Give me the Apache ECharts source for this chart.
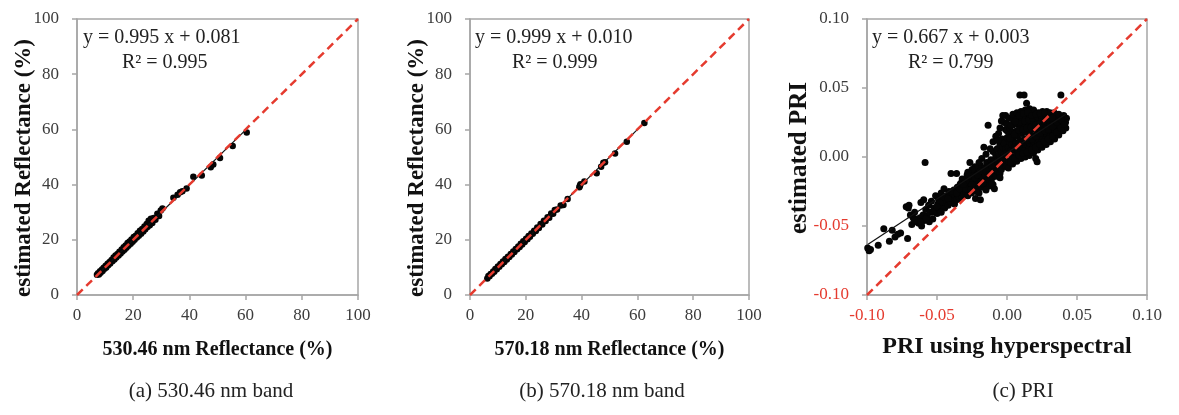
<!DOCTYPE html>
<html>
<head>
<meta charset="utf-8">
<script src="https://cdn.jsdelivr.net/npm/echarts@6/dist/echarts.min.js"></script>
<style>
html,body{margin:0;padding:0;background:#fff;}
#chart{width:1179px;height:415px;}
</style>
</head>
<body>
<div id="chart"></div>
<script>
// ---------- data ----------
const refTicks = [0, 20, 40, 60, 80, 100];
const priTicks = [-0.10, -0.05, 0.00, 0.05, 0.10];

const pointsA = [[7.1,7.3],[7.5,7.9],[7.8,7.4],[8.2,8.6],[8.4,8.1],[8.9,9.2],[9.1,8.7],[9.5,9.9],[9.8,9.5],[10.2,10.6],[10.4,10.0],[10.9,11.3],[11.1,10.8],[11.6,12.0],[11.8,11.4],[12.3,12.7],[12.6,12.2],[13.0,13.6],[13.3,12.9],[13.7,14.3],[14.0,13.6],[14.4,14.9],[14.8,14.3],[15.1,15.7],[15.5,15.0],[15.9,16.5],[16.2,15.8],[16.6,17.3],[16.9,16.4],[17.3,17.9],[17.6,17.1],[18.0,18.8],[18.3,17.8],[18.7,19.4],[19.1,18.6],[19.4,20.1],[19.8,19.3],[20.2,21.0],[20.5,20.0],[20.9,21.5],[21.3,20.8],[21.6,22.4],[22.0,21.5],[22.4,23.3],[22.8,22.2],[23.2,23.9],[23.6,23.0],[24.0,24.8],[24.3,23.8],[24.8,25.7],[25.1,24.6],[25.5,26.9],[25.9,25.3],[26.3,27.6],[26.8,26.1],[27.3,27.9],[27.9,27.3],[28.6,29.4],[29.2,28.6],[29.8,30.6],[30.4,31.3],[34.3,35.2],[35.8,36.3],[36.7,37.2],[37.5,37.6],[39.0,38.6],[41.4,42.8],[44.4,43.3],[47.6,46.3],[48.5,47.3],[50.9,49.6],[55.4,54.0],[60.4,58.9]];
const fitA = [[7.0,7.05],[60.4,60.18]];

const pointsB = [[6.2,6.0],[6.6,6.9],[7.0,6.8],[7.4,7.6],[7.9,7.7],[8.3,8.5],[8.7,8.4],[9.1,9.4],[9.6,9.3],[10.0,10.3],[10.5,10.2],[10.9,11.2],[11.4,11.1],[11.8,12.1],[12.3,12.0],[12.7,13.0],[13.2,12.9],[13.6,13.9],[14.1,13.8],[14.6,14.9],[15.0,14.7],[15.5,15.8],[15.9,15.6],[16.4,16.7],[16.9,16.6],[17.3,17.6],[17.8,17.4],[18.2,18.6],[18.7,18.3],[19.1,19.5],[19.6,19.2],[20.1,20.4],[20.6,20.2],[21.0,21.4],[21.5,21.1],[22.0,22.3],[22.5,22.2],[23.0,23.3],[23.6,23.2],[24.1,24.5],[24.7,24.3],[25.3,25.7],[25.9,25.5],[26.5,26.9],[27.1,26.8],[27.8,28.2],[28.4,28.0],[29.1,29.5],[29.8,29.4],[30.4,30.8],[31.2,31.0],[32.5,32.4],[33.5,32.6],[35.0,34.8],[39.2,39.0],[39.4,39.6],[39.6,40.1],[41.0,41.1],[45.4,44.1],[47.0,46.5],[47.8,47.9],[48.4,48.1],[52.0,51.3],[56.2,55.5],[62.5,62.3]];
const fitB = [[6.2,6.2],[62.5,62.45]];

const pointsC = [
[-0.0995,-0.0660],[-0.0985,-0.0680],[-0.0975,-0.0670],[-0.0920,-0.0640],[-0.0880,-0.0520],[-0.0840,-0.0610],[-0.0820,-0.0530],[-0.0800,-0.0580],[-0.0780,-0.0560],[-0.0760,-0.0550],[-0.0720,-0.0360],[-0.0710,-0.0590],[-0.0705,-0.0370],[-0.0700,-0.0350],[-0.0690,-0.0420],[-0.0680,-0.0490],[-0.0670,-0.0440],[-0.0660,-0.0400],[-0.0650,-0.0470],[-0.0640,-0.0450],[-0.0630,-0.0480],[-0.0620,-0.0440],[-0.0615,-0.0330],[-0.0610,-0.0500],[-0.0600,-0.0420],[-0.0595,-0.0310],[-0.0590,-0.0460],[-0.0585,-0.0040],[-0.0580,-0.0380],[-0.0570,-0.0430],[-0.0560,-0.0350],[-0.0555,-0.0470],[-0.0550,-0.0400],[-0.0540,-0.0320],[-0.0530,-0.0450],[-0.0520,-0.0370],[-0.0510,-0.0280],[-0.0500,-0.0410],[-0.0495,-0.0340],[-0.0490,-0.0300],[-0.0480,-0.0380],[-0.0470,-0.0260],[-0.0465,-0.0350],[-0.0460,-0.0310],[-0.0450,-0.0230],[-0.0445,-0.0370],[-0.0440,-0.0330],[-0.0430,-0.0280],[-0.0420,-0.0350],[-0.0415,-0.0250],[-0.0410,-0.0310],[-0.0400,-0.0120],[-0.0400,-0.0330],[-0.0395,-0.0270],[-0.0390,-0.0300],[-0.0380,-0.0240],[-0.0375,-0.0340],[-0.0370,-0.0280],[-0.0360,-0.0120],[-0.0360,-0.0310],[-0.0355,-0.0220],[-0.0350,-0.0270],[-0.0340,-0.0300],[-0.0335,-0.0200],[-0.0330,-0.0250],[-0.0320,-0.0160],[-0.0320,-0.0290],[-0.0315,-0.0230],[-0.0310,-0.0270],[-0.0300,-0.0190],[-0.0295,-0.0250],[-0.0290,-0.0210],[-0.0285,-0.0130],[-0.0280,-0.0280],[-0.0275,-0.0170],[-0.0270,-0.0230],[-0.0265,-0.0040],[-0.0260,-0.0200],[-0.0255,-0.0260],[-0.0250,-0.0140],[-0.0245,-0.0180],[-0.0240,-0.0240],[-0.0235,-0.0110],[-0.0230,-0.0200],[-0.0225,-0.0300],[-0.0220,-0.0160],[-0.0215,-0.0220],[-0.0210,-0.0090],[-0.0205,-0.0190],[-0.0200,-0.0260],[-0.0195,-0.0140],[-0.0190,-0.0310],[-0.0190,-0.0060],[-0.0185,-0.0170],[-0.0180,-0.0220],[-0.0175,-0.0110],[-0.0170,-0.0150],[-0.0165,0.0070],[-0.0160,-0.0200],[-0.0160,-0.0080],[-0.0155,-0.0130],[-0.0150,-0.0180],[-0.0145,-0.0040],[-0.0140,-0.0110],[-0.0135,0.0230],[-0.0135,-0.0160],[-0.0130,-0.0070],[-0.0125,-0.0210],[-0.0120,-0.0120],[-0.0115,-0.0020],[-0.0110,-0.0090],[-0.0105,-0.0150],[-0.0100,-0.0050],[-0.0100,0.0040],[-0.0095,-0.0110],[-0.0090,-0.0230],[-0.0090,-0.0020],[-0.0085,-0.0080],[-0.0080,0.0010],[-0.0080,-0.0140],[-0.0075,-0.0050],[-0.0070,0.0060],[-0.0070,-0.0100],[-0.0065,-0.0020],[-0.0060,0.0170],[-0.0060,-0.0070],[-0.0055,0.0020],[-0.0050,-0.0120],[-0.0050,0.0090],[-0.0045,-0.0040],[-0.0040,0.0040],[-0.0040,-0.0090],[-0.0035,0.0130],[-0.0030,-0.0010],[-0.0030,0.0070],[-0.0025,-0.0060],[-0.0020,0.0100],[-0.0020,0.0020],[-0.0015,-0.0030],[-0.0010,0.0060],[-0.0010,0.0200],[-0.0005,-0.0070],[0.0000,0.0030],[0.0000,0.0140],
[-0.0040,0.0260],[-0.0030,0.0300],[-0.0020,0.0250],[-0.0050,0.0210],[-0.0080,0.0150],[-0.0100,0.0110],[-0.0065,0.0120],[-0.0010,0.0300],[0.0000,0.0240],[0.0000,0.0190],[-0.0120,0.0060],[-0.0150,0.0020],[-0.0180,-0.0010],[-0.0200,-0.0040],[-0.0230,-0.0070],[-0.0250,-0.0090],[-0.0280,-0.0110],
[-0.0150,-0.0240],[-0.0100,-0.0200],[-0.0050,-0.0150],[-0.0110,-0.0190],
[-0.0290,-0.0170],[-0.0270,-0.0140],[-0.0250,-0.0200],[-0.0230,-0.0150],[-0.0210,-0.0130],[-0.0190,-0.0100],[-0.0170,-0.0190],[-0.0150,-0.0100],[-0.0130,-0.0130],[-0.0110,-0.0060],[-0.0300,-0.0230],[-0.0260,-0.0240],[-0.0220,-0.0250],
[-0.0480,-0.0330],[-0.0450,-0.0290],[-0.0420,-0.0300],[-0.0390,-0.0250],[-0.0360,-0.0260],[-0.0340,-0.0230],[-0.0330,-0.0190],[-0.0310,-0.0200],[-0.0530,-0.0400],[-0.0500,-0.0360],[-0.0470,-0.0400],[-0.0580,-0.0450],[-0.0620,-0.0470],[-0.0660,-0.0460],
[0.0010,-0.0080],[0.0012,-0.0030],[0.0015,0.0020],[0.0010,0.0070],[0.0018,0.0110],[0.0014,0.0160],[0.0020,0.0210],[0.0016,0.0280],
[0.0040,-0.0050],[0.0038,0.0000],[0.0042,0.0050],[0.0036,0.0090],[0.0044,0.0130],[0.0040,0.0180],[0.0038,0.0230],[0.0045,0.0270],[0.0042,0.0310],
[0.0070,-0.0030],[0.0068,0.0020],[0.0072,0.0060],[0.0066,0.0100],[0.0074,0.0150],[0.0070,0.0190],[0.0068,0.0240],[0.0075,0.0280],[0.0071,0.0320],
[0.0100,-0.0010],[0.0098,0.0040],[0.0103,0.0080],[0.0096,0.0120],[0.0105,0.0170],[0.0100,0.0210],[0.0097,0.0250],[0.0104,0.0290],[0.0100,0.0330],[0.0092,0.0450],
[0.0130,0.0000],[0.0128,0.0050],[0.0133,0.0090],[0.0126,0.0130],[0.0135,0.0180],[0.0130,0.0220],[0.0127,0.0260],[0.0134,0.0300],[0.0131,0.0340],[0.0122,0.0450],[0.0140,0.0390],
[0.0160,0.0010],[0.0158,0.0060],[0.0163,0.0100],[0.0156,0.0140],[0.0165,0.0190],[0.0160,0.0230],[0.0157,0.0270],[0.0164,0.0310],[0.0161,0.0350],
[0.0190,0.0030],[0.0188,0.0070],[0.0193,0.0110],[0.0186,0.0150],[0.0195,0.0200],[0.0190,0.0240],[0.0187,0.0280],[0.0194,0.0320],[0.0190,0.0340],
[0.0205,-0.0010],[0.0215,-0.0035],[0.0220,0.0050],[0.0218,0.0090],[0.0223,0.0130],[0.0216,0.0170],[0.0225,0.0210],[0.0220,0.0250],[0.0217,0.0290],[0.0224,0.0320],
[0.0250,0.0070],[0.0248,0.0110],[0.0253,0.0150],[0.0246,0.0190],[0.0255,0.0230],[0.0250,0.0270],[0.0247,0.0300],[0.0254,0.0330],
[0.0280,0.0090],[0.0278,0.0130],[0.0283,0.0170],[0.0276,0.0210],[0.0285,0.0250],[0.0280,0.0280],[0.0277,0.0310],[0.0284,0.0330],
[0.0310,0.0110],[0.0308,0.0150],[0.0313,0.0190],[0.0306,0.0230],[0.0315,0.0260],[0.0310,0.0290],[0.0307,0.0320],
[0.0340,0.0130],[0.0338,0.0170],[0.0343,0.0210],[0.0336,0.0240],[0.0345,0.0270],[0.0340,0.0300],[0.0337,0.0320],
[0.0370,0.0160],[0.0368,0.0200],[0.0373,0.0230],[0.0366,0.0260],[0.0375,0.0290],[0.0370,0.0310],[0.0385,0.0450],
[0.0400,0.0190],[0.0398,0.0220],[0.0403,0.0250],[0.0396,0.0280],[0.0405,0.0300],
[0.0420,0.0210],[0.0425,0.0280],[0.0418,0.0250],
[0.0025,-0.0040],[0.0027,0.0045],[0.0023,0.0135],[0.0028,0.0230],[0.0055,-0.0010],[0.0057,0.0075],[0.0053,0.0165],[0.0058,0.0255],[0.0085,0.0015],[0.0087,0.0105],[0.0083,0.0195],[0.0088,0.0300],[0.0115,0.0025],[0.0117,0.0110],[0.0113,0.0200],[0.0118,0.0315],[0.0145,0.0035],[0.0147,0.0120],[0.0143,0.0210],[0.0148,0.0325],[0.0175,0.0050],[0.0177,0.0130],[0.0173,0.0215],[0.0178,0.0300],[0.0205,0.0070],[0.0207,0.0150],[0.0203,0.0230],[0.0208,0.0310],[0.0235,0.0090],[0.0237,0.0170],[0.0233,0.0240],[0.0238,0.0315],[0.0265,0.0110],[0.0267,0.0190],[0.0263,0.0260],[0.0268,0.0320],[0.0295,0.0130],[0.0297,0.0200],[0.0293,0.0270],[0.0325,0.0150],[0.0327,0.0220],[0.0323,0.0280],[0.0355,0.0180],[0.0357,0.0250],[0.0385,0.0210],[0.0387,0.0270],[0.0410,0.0235]
];
const fitC = [[-0.0995,-0.0634],[0.0425,0.0313]];

const diagRef = [[0,0],[100,100]];
const diagPri = [[-0.1,-0.1],[0.1,0.1]];

const panels = [
  {xName:'530.46 nm Reflectance (%)', yName:'estimated Reflectance (%)', eq:'y = 0.995 x + 0.081', r2:'R² = 0.995', caption:'(a) 530.46 nm band', points:pointsA, fit:fitA, diag:diagRef, ticks:refTicks},
  {xName:'570.18 nm Reflectance (%)', yName:'estimated Reflectance (%)', eq:'y = 0.999 x + 0.010', r2:'R² = 0.999', caption:'(b) 570.18 nm band', points:pointsB, fit:fitB, diag:diagRef, ticks:refTicks},
  {xName:'PRI using hyperspectral', yName:'estimated PRI', eq:'y = 0.667 x + 0.003', r2:'R² = 0.799', caption:'(c) PRI', points:pointsC, fit:fitC, diag:diagPri, ticks:priTicks}
];

// ---------- layout / style ----------
const FONT = 'Liberation Serif';
const layout = [
  {left:77, top:19, width:281, height:276, eqX:83, r2X:122, capX:211, xGap:45, xSize:20, yX:24, yY:168, ySize:23, dot:6.5},
  {left:470, top:19, width:279, height:276, eqX:475, r2X:512, capX:602, xGap:45, xSize:20, yX:417, yY:168, ySize:23, dot:6.5},
  {left:867, top:19, width:280, height:276, eqX:872, r2X:908, capX:1023, xGap:40, xSize:24, yX:800, yY:158, ySize:25, dot:7}
];
const AXIS_GRAY = '#a6a6a6';
const LABEL_COLOR = '#3c3c3c';
const RED = '#e53b2f';

const grids = [], xAxes = [], yAxes = [], series = [], graphics = [];

function fmtPri(v){
  const s = (Math.abs(v) < 1e-9 ? 0 : v).toFixed(2);
  return v < -1e-9 ? '{neg|' + s + '}' : '{pos|' + s + '}';
}
function fmtRef(v){ return String(Math.round(v)); }

panels.forEach((p, i) => {
  const L = layout[i];
  const isPri = i === 2;
  const t = p.ticks;
  grids.push({left:L.left, top:L.top, width:L.width, height:L.height, show:true, borderColor:AXIS_GRAY, borderWidth:1.5, backgroundColor:'#fff', containLabel:false});
  const rich = {neg:{color:RED, fontFamily:FONT, fontSize:17}, pos:{color:LABEL_COLOR, fontFamily:FONT, fontSize:17}};
  const common = {
    type:'value', gridIndex:i, min:t[0], max:t[t.length-1], interval:t[1]-t[0],
    axisLine:{show:true, onZero:false, lineStyle:{color:AXIS_GRAY, width:1.5}},
    axisTick:{show:true, length:5, lineStyle:{color:AXIS_GRAY, width:1.5}},
    splitLine:{show:false},
    nameLocation:'middle'
  };
  xAxes.push(Object.assign({}, common, {
    name:p.xName, nameGap:L.xGap,
    nameTextStyle:{fontFamily:FONT, fontWeight:'bold', fontSize:L.xSize, color:'#111'},
    axisLabel:{margin:12, fontFamily:FONT, fontSize:17, color:LABEL_COLOR, formatter:isPri?fmtPri:fmtRef, rich:isPri?rich:undefined}
  }));
  yAxes.push(Object.assign({}, common, {
    axisLabel:{margin:18, fontFamily:FONT, fontSize:17, color:LABEL_COLOR, formatter:isPri?fmtPri:fmtRef, rich:isPri?rich:undefined}
  }));
  series.push({type:'scatter', xAxisIndex:i, yAxisIndex:i, data:p.points, symbolSize:L.dot, itemStyle:{color:'#050505', opacity:1}, silent:true, z:2});
  series.push({type:'line', xAxisIndex:i, yAxisIndex:i, data:p.fit, symbol:'none', lineStyle:{color:'#111', width:1.2}, silent:true, z:3});
  series.push({type:'line', xAxisIndex:i, yAxisIndex:i, data:p.diag, symbol:'none', lineStyle:{color:RED, width:2.5, type:[8,5]}, silent:true, z:4});
  graphics.push({type:'text', left:L.eqX, top:28, style:{text:p.eq, fontFamily:FONT, fontSize:20, fill:'#222'}, z:10});
  graphics.push({type:'text', left:L.r2X, top:53, style:{text:p.r2, fontFamily:FONT, fontSize:20, fill:'#222'}, z:10});
  graphics.push({type:'text', x:L.capX, y:391, style:{text:p.caption, fontFamily:FONT, fontSize:21, fill:'#222', textAlign:'center', textVerticalAlign:'middle'}, z:10});
  graphics.push({type:'text', x:L.yX, y:L.yY, rotation:Math.PI/2, style:{text:p.yName, fontFamily:FONT, fontWeight:'bold', fontSize:L.ySize, fill:'#111', textAlign:'center', textVerticalAlign:'middle'}, z:10});
});

const chart = echarts.init(document.getElementById('chart'), null, {renderer:'canvas'});
chart.setOption({
  animation:false,
  backgroundColor:'#fff',
  grid:grids, xAxis:xAxes, yAxis:yAxes, series:series, graphic:graphics
});
</script>
</body>
</html>
